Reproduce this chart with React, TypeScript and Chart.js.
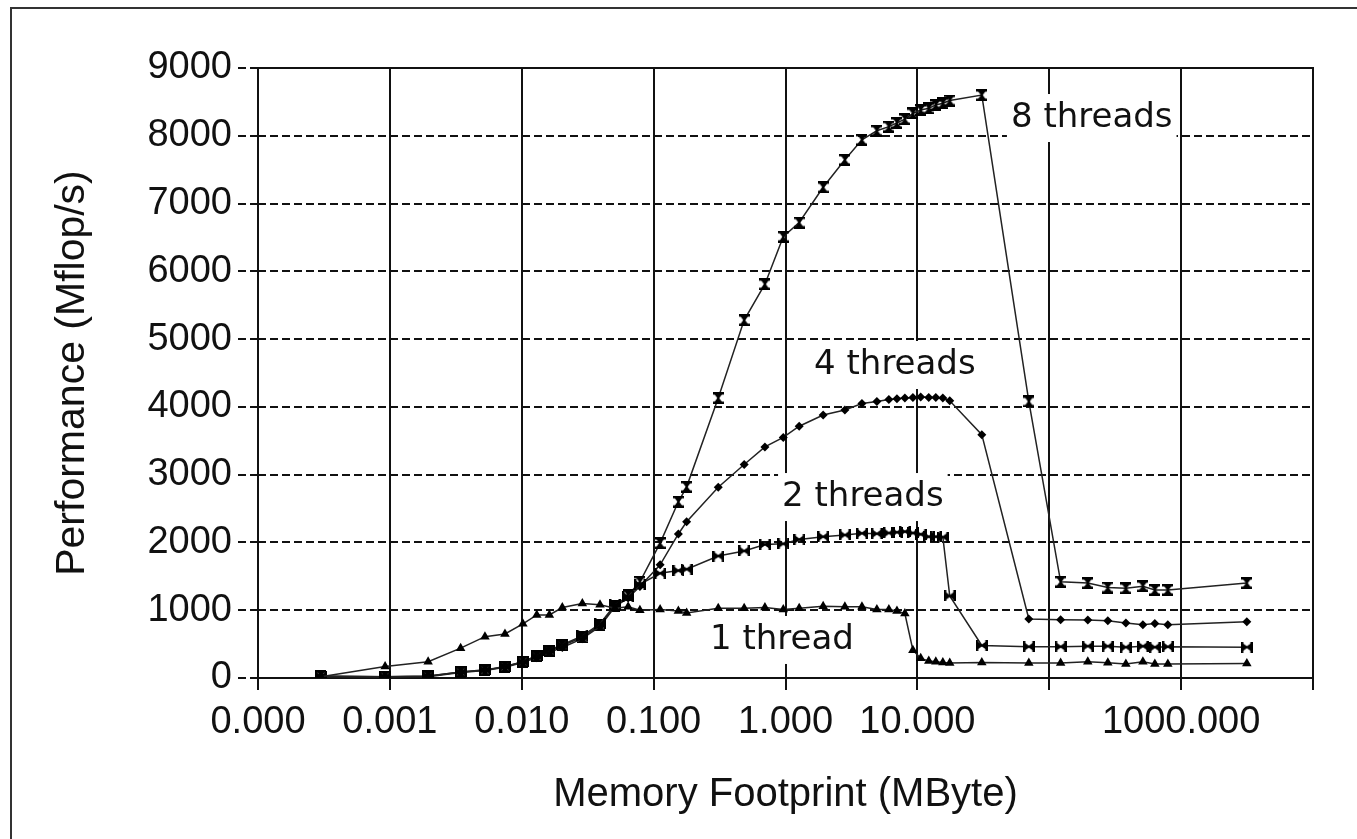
import React, { useEffect, useRef } from "react";
import { Chart, registerables } from "chart.js";
Chart.register(...registerables);

// Memory footprint (MByte) at which each measurement was taken
const memoryMB = [
  0.0003, 0.00092, 0.00195, 0.00344, 0.00526, 0.00746, 0.0102, 0.013, 0.0162, 0.0203,
  0.0288, 0.0392, 0.0509, 0.0641, 0.0787, 0.112, 0.154, 0.178, 0.309, 0.486,
  0.698, 0.962, 1.27, 1.93, 2.82, 3.8, 4.93, 6.08, 7.0, 8.04,
  9.25, 10.6, 12.2, 13.8, 15.6, 17.6, 30.8, 70, 122, 196,
  278, 381, 513, 632, 793, 3150,
];

// Performance (Mflop/s)
const thread1 = [
  20, 170, 240, 440, 610, 650, 800, 930, 930, 1040,
  1100, 1080, 1030, 1050, 1000, 1010, 990, 960, 1030, 1030,
  1040, 1010, 1030, 1060, 1050, 1050, 1010, 1010, 990, 950,
  410, 290, 250, 240, 230, 220, 230, 220, 220, 240,
  225, 205, 240, 205, 205, 215,
];
const threads2 = [
  25, 20, 30, 90, 120, 170, 240, 330, 410, 490,
  620, 800, 1080, 1200, 1380, 1545, 1585, 1605, 1800, 1875,
  1970, 1980, 2045, 2085, 2110, 2135, 2130, 2140, 2150, 2160,
  2140, 2120, 2085, 2085, 2080, 1210, 480, 462, 462, 470,
  470, 455, 470, 455, 462, 455,
];
const threads4 = [
  20, 15, 20, 80, 110, 160, 230, 300, 380, 450,
  580, 760, 1050, 1180, 1350, 1670, 2125, 2305, 2815, 3150,
  3410, 3550, 3715, 3880, 3955, 4050, 4080, 4110, 4120, 4130,
  4140, 4145, 4140, 4140, 4130, 4090, 3590, 870, 860, 855,
  845, 810, 785, 805, 785, 830,
];
const threads8 = [
  30, 20, 25, 90, 115, 165, 240, 320, 400, 480,
  600, 780, 1060, 1220, 1420, 1990, 2600, 2820, 4130, 5280,
  5810, 6510, 6720, 7240, 7645, 7940, 8075, 8135, 8190, 8245,
  8330, 8380, 8405, 8455, 8480, 8520, 8600, 4080, 1420, 1400,
  1335, 1325, 1355, 1300, 1300, 1400,
];

const xTickValues = [0.0001, 0.001, 0.01, 0.1, 1, 10, 100, 1000, 10000];
const xTickLabels = ["0.000", "0.001", "0.010", "0.100", "1.000", "10.000", "", "1000.000", ""];

const noteText = ["8 threads", "4 threads", "2 threads", "1 thread"];
const noteX = [210, 6.75, 3.86, 0.94];
const noteY = [8262, 4618, 2670, 561];

function makeBowtie(vertical: boolean): HTMLCanvasElement {
  const w = vertical ? 11 : 12;
  const h = vertical ? 12 : 11;
  const c = document.createElement("canvas");
  c.width = w;
  c.height = h;
  const g = c.getContext("2d")!;
  g.fillStyle = "#000";
  if (vertical) {
    g.beginPath(); g.moveTo(1, 1); g.lineTo(w - 1, 1); g.lineTo(w / 2 + 1, h / 2); g.lineTo(w / 2 - 1, h / 2); g.closePath(); g.fill();
    g.beginPath(); g.moveTo(1, h - 1); g.lineTo(w - 1, h - 1); g.lineTo(w / 2 + 1, h / 2); g.lineTo(w / 2 - 1, h / 2); g.closePath(); g.fill();
    g.fillRect(0, 0, w, 2.5);
    g.fillRect(0, h - 2.5, w, 2.5);
  } else {
    g.beginPath(); g.moveTo(1, 1); g.lineTo(1, h - 1); g.lineTo(w / 2, h / 2 + 1); g.lineTo(w / 2, h / 2 - 1); g.closePath(); g.fill();
    g.beginPath(); g.moveTo(w - 1, 1); g.lineTo(w - 1, h - 1); g.lineTo(w / 2, h / 2 + 1); g.lineTo(w / 2, h / 2 - 1); g.closePath(); g.fill();
    g.fillRect(0, 0, 2.5, h);
    g.fillRect(w - 2.5, 0, 2.5, h);
  }
  return c;
}

const framePlugin = {
  id: "frameNotes",
  beforeDatasetsDraw(chart: any) {
    const { ctx, chartArea: a, scales } = chart;
    ctx.save();
    ctx.font = '34px "DejaVu Sans"';
    ctx.textAlign = "center";
    ctx.textBaseline = "middle";
    noteText.forEach((t, i) => {
      const x = scales.x.getPixelForValue(noteX[i]);
      const y = scales.y.getPixelForValue(noteY[i]);
      const w = ctx.measureText(t).width;
      ctx.fillStyle = "#fff";
      ctx.fillRect(x - w / 2 - 4, y - 24, w + 8, 48);
      ctx.fillStyle = "#111";
      ctx.fillText(t, x, y);
    });
    ctx.setLineDash([]);
    ctx.strokeStyle = "#111";
    ctx.lineWidth = 2;
    ctx.strokeRect(a.left, a.top, a.right - a.left, a.bottom - a.top);
    ctx.restore();
  },
};

export default function App() {
  const ref = useRef<HTMLCanvasElement | null>(null);
  useEffect(() => {
    if (!ref.current) return;
    const hour = makeBowtie(true);
    const side = makeBowtie(false);
    const mk = (arr: number[]) => memoryMB.map((x, i) => ({ x, y: arr[i] }));
    const common = {
      borderColor: "#222",
      borderWidth: 1.5,
      pointBackgroundColor: "#000",
      pointBorderColor: "#000",
      pointBorderWidth: 0,
      tension: 0,
      fill: false,
    };
    const chart = new Chart(ref.current, {
      type: "line",
      data: {
        datasets: [
          { ...common, label: "1 thread", data: mk(thread1), pointStyle: "triangle", pointRadius: 5.5 },
          { ...common, label: "2 threads", data: mk(threads2), pointStyle: side as any, pointRadius: 5 },
          { ...common, label: "4 threads", data: mk(threads4), pointStyle: "rectRot", pointRadius: 4.5 },
          { ...common, label: "8 threads", data: mk(threads8), pointStyle: hour as any, pointRadius: 5 },
        ],
      },
      options: {
        responsive: false,
        animation: false,
        devicePixelRatio: 1,
        layout: { padding: { left: 44, right: 44, top: 68, bottom: 0 } },
        plugins: { legend: { display: false }, tooltip: { enabled: false } },
        scales: {
          x: {
            type: "logarithmic",
            min: 0.0001,
            max: 10000,
            afterBuildTicks: (s: any) => {
              s.ticks = xTickValues.map((v) => ({ value: v }));
            },
            afterFit: (s: any) => {
              s.height = 161;
            },
            border: { display: false },
            grid: { color: "#111", lineWidth: 2, tickLength: 12, tickColor: "#111", tickWidth: 2 },
            ticks: {
              autoSkip: false,
              maxRotation: 0,
              minRotation: 0,
              padding: 10,
              color: "#111",
              font: { family: '"Liberation Sans", Arial', size: 38 },
              callback: (_v: any, i: number) => xTickLabels[i],
            },
            title: {
              display: true,
              text: "Memory Footprint (MByte)",
              color: "#111",
              font: { family: '"Liberation Sans", Arial', size: 40 },
              padding: { top: 0, bottom: 20 },
            },
          },
          y: {
            type: "linear",
            min: 0,
            max: 9000,
            afterFit: (s: any) => {
              s.width = 214;
            },
            border: { display: false, dash: [8, 4] },
            grid: {
              color: "#111",
              lineWidth: 2,
              tickLength: 20,
              tickColor: "#111",
              tickWidth: 2,
              tickBorderDash: [8, 4],
            },
            ticks: {
              stepSize: 1000,
              padding: 6,
              color: "#111",
              font: { family: '"Liberation Sans", Arial', size: 38 },
              callback: (v: any) => String(v),
            },
            title: {
              display: true,
              text: "Performance (Mflop/s)",
              color: "#111",
              font: { family: '"Liberation Sans", Arial', size: 41 },
              padding: { top: 4, bottom: 0 },
            },
          },
        },
      },
      plugins: [framePlugin],
    });
    return () => chart.destroy();
  }, []);

  return (
    <div style={{ position: "fixed", left: 0, top: 0, width: 1357, height: 839, overflow: "hidden", background: "#fff" }}>
      <div
        style={{
          position: "absolute",
          left: 10,
          top: 7,
          width: 1400,
          height: 900,
          border: "2px solid #333",
          boxSizing: "border-box",
        }}
      />
      <canvas ref={ref} width={1357} height={839} style={{ position: "absolute", left: 0, top: 0 }} />
    </div>
  );
}
